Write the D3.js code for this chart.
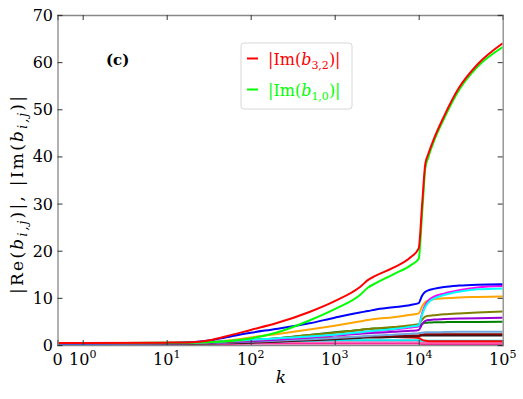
<!DOCTYPE html>
<html lang="en">
    <head>
        <meta charset="utf-8">
        <script src="https://d3js.org/d3.v7.min.js"></script>
        <style>
            body { margin: 0; background: #fff; }
        </style>
    </head>
    <body>
        <svg id="mysvg" width="523" height="399" font-family="'DejaVu Serif', serif"></svg>

        <script>

        // k values shared by all series
        var kValues = [0, 1, 10, 20, 30, 50, 100, 200, 500, 1000, 2000, 2500, 3000, 5000, 8000, 10000, 11000, 12000, 13000, 15000, 20000, 30000, 50000, 100000]

        var imB32 =    [0.4, 0.4, 0.5, 0.6, 0.9, 1.8, 3.2, 4.6, 7.0, 9.3, 12.3, 13.8, 14.6, 16.4, 18.6, 20.5, 30, 38.5, 40.5, 43.5, 48.5, 54.5, 59.5, 64]
        var imB10 =    [0.4, 0.4, 0.5, 0.5, 0.6, 0.8, 1.4, 2.6, 5.2, 7.6, 10.6, 12.2, 13.0, 15.0, 16.9, 18.3, 28, 37.5, 39.8, 43, 48, 54, 59, 63.2]
        var sBlue =    [0.3, 0.3, 0.4, 0.6, 0.9, 1.6, 2.6, 3.4, 4.6, 5.8, 6.9, 7.2, 7.5, 8.0, 8.5, 8.9, 10.5, 11.3, 11.6, 11.9, 12.3, 12.6, 12.8, 12.9]
        var sCyan =    [0.3, 0.3, 0.4, 0.5, 0.6, 0.8, 1.1, 1.4, 1.8, 2.2, 2.7, 2.9, 3.0, 3.4, 3.9, 4.2, 6.5, 8.1, 9.0, 9.8, 10.6, 11.3, 11.8, 12.0]
        var sMagenta = [0.3, 0.3, 0.4, 0.5, 0.6, 0.8, 1.0, 1.3, 1.7, 2.1, 2.6, 2.8, 2.9, 3.3, 3.7, 4.0, 6.8, 8.5, 9.4, 10.2, 10.9, 11.6, 12.2, 12.5]
        var sOrange =  [0.3, 0.3, 0.4, 0.5, 0.6, 0.9, 1.6, 2.3, 3.3, 4.1, 5.0, 5.3, 5.5, 5.9, 6.4, 6.7, 8.2, 9.1, 9.4, 9.7, 9.9, 10.1, 10.2, 10.3]
        var sOlive =   [0.4, 0.4, 0.5, 0.5, 0.6, 0.7, 1.0, 1.4, 2.1, 2.6, 3.2, 3.4, 3.5, 3.8, 4.2, 4.4, 5.4, 6.0, 6.2, 6.3, 6.5, 6.7, 6.9, 7.1]
        var sViolet =  [0.3, 0.3, 0.3, 0.4, 0.5, 0.6, 0.8, 1.1, 1.6, 2.0, 2.4, 2.5, 2.6, 2.8, 3.0, 3.2, 4.4, 5.1, 5.3, 5.4, 5.5, 5.6, 5.7, 5.8]
        var sDkGreen = [0.3, 0.3, 0.3, 0.4, 0.5, 0.7, 1.0, 1.4, 2.1, 2.7, 3.2, 3.4, 3.5, 3.7, 3.9, 4.0, 4.5, 4.7, 4.75, 4.8, 4.85, 4.9, 4.9, 4.95]
        var sSteel =   [0.3, 0.3, 0.3, 0.4, 0.4, 0.5, 0.7, 0.9, 1.2, 1.5, 1.8, 1.9, 2.0, 2.2, 2.4, 2.5, 2.6, 2.7, 2.7, 2.7, 2.75, 2.8, 2.8, 2.8]
        var sMaroon =  [0.3, 0.3, 0.3, 0.3, 0.4, 0.5, 0.6, 0.8, 1.1, 1.4, 1.7, 1.8, 1.8, 1.9, 2.0, 2.0, 2.2, 2.3, 2.3, 2.3, 2.3, 2.3, 2.3, 2.3]
        var sBlack =   [0.2, 0.2, 0.3, 0.3, 0.3, 0.4, 0.5, 0.7, 1.0, 1.2, 1.5, 1.6, 1.6, 1.7, 1.8, 1.9, 2.0, 2.0, 2.0, 2.0, 2.0, 2.0, 2.0, 2.0]
        var sRed2 =    [0.3, 0.3, 0.3, 0.4, 0.5, 0.6, 0.8, 1.0, 1.3, 1.5, 1.7, 1.7, 1.7, 1.7, 1.6, 1.5, 1.1, 0.9, 0.8, 0.8, 0.8, 0.8, 0.8, 0.8]
        var sCyan2 =   [0.2, 0.2, 0.3, 0.3, 0.4, 0.5, 0.6, 0.8, 0.9, 1.0, 1.0, 1.0, 1.0, 1.0, 1.0, 1.0, 0.9, 0.9, 0.9, 0.9, 0.9, 0.9, 0.9, 0.9]
        var sHotPink = [0.2, 0.2, 0.3, 0.3, 0.3, 0.4, 0.5, 0.6, 0.6, 0.6, 0.6, 0.6, 0.6, 0.6, 0.6, 0.6, 0.5, 0.5, 0.5, 0.5, 0.5, 0.5, 0.5, 0.5]
        var sPink =    [0.1, 0.1, 0.2, 0.2, 0.2, 0.2, 0.3, 0.3, 0.3, 0.3, 0.3, 0.3, 0.3, 0.3, 0.3, 0.3, 0.2, 0.2, 0.2, 0.2, 0.2, 0.2, 0.2, 0.2]

        var xTicks = [0, 1, 10, 100, 1000, 10000, 100000]
        var xTickLabels = [["0", ""], ["10", "0"], ["10", "1"], ["10", "2"], ["10", "3"], ["10", "4"], ["10", "5"]]
        var yTicks = [0, 10, 20, 30, 40, 50, 60, 70]

        // drawing order: bottom first, the two legend series last
        var series = [
            {v: sPink, c: "#ff1493"},
            {v: sHotPink, c: "#ff69b4"},
            {v: sCyan2, c: "#00e5ee"},
            {v: sRed2, c: "#ff0000"},
            {v: sBlack, c: "#202020"},
            {v: sMaroon, c: "#800000"},
            {v: sSteel, c: "#6fa8dc"},
            {v: sDkGreen, c: "#008000"},
            {v: sViolet, c: "#9400d3"},
            {v: sOlive, c: "#808000"},
            {v: sOrange, c: "#ffa500"},
            {v: sMagenta, c: "#ff00ff"},
            {v: sCyan, c: "#00ffff"},
            {v: sBlue, c: "#0000ff"},
            {v: imB10, c: "#00ff00"},
            {v: imB32, c: "#ff0000"}
        ]

        var svg = d3.select("#mysvg")

        var mLeft = 57.5, mRight = 502.7, mTop = 15, mBottom = 345

        // symlog-like: linear below 1, log above
        function tk(k) { return k <= 1 ? k * 0.3 : 0.3 + Math.log10(k) }

        var x = d3.scaleLinear().domain([0, tk(1e5)]).range([mLeft, mRight])
        var y = d3.scaleLinear().domain([0, 70]).range([mBottom, mTop])

        var line = d3.line()
            .x(function(d) { return x(tk(d[0])) })
            .y(function(d) { return y(d[1]) })
            .curve(d3.curveMonotoneX)

        svg.append("clipPath").attr("id", "clip")
            .append("rect").attr("x", mLeft).attr("y", mTop)
            .attr("width", mRight - mLeft).attr("height", mBottom - mTop)

        svg.append("g").attr("clip-path", "url(#clip)")
            .selectAll("path")
            .data(series)
            .enter().append("path")
            .attr("d", function(s) { return line(kValues.map(function(k, i) { return [k, s.v[i]] })) })
            .attr("fill", "none")
            .attr("stroke", function(s) { return s.c })
            .attr("stroke-width", 2)

        // axes, ticks inward
        var xt = xTicks.map(tk)
        var axColor = "#888"
        var gB = svg.append("g").attr("transform", "translate(0," + mBottom + ")")
            .call(d3.axisBottom(x).tickValues(xt).tickSize(-5).tickFormat(""))
        var gT = svg.append("g").attr("transform", "translate(0," + mTop + ")")
            .call(d3.axisTop(x).tickValues(xt).tickSize(-5).tickFormat(""))
        var gL = svg.append("g").attr("transform", "translate(" + mLeft + ",0)")
            .call(d3.axisLeft(y).tickValues(yTicks).tickSize(-5).tickFormat(""))
        var gR = svg.append("g").attr("transform", "translate(" + mRight + ",0)")
            .call(d3.axisRight(y).tickValues(yTicks).tickSize(-5).tickFormat(""))
        ;[gB, gT, gL, gR].forEach(function(g) {
            g.selectAll(".domain").attr("stroke", axColor).attr("stroke-width", 1.3)
            g.selectAll(".tick line").attr("stroke", "#333").attr("stroke-width", 1)
        })

        // x tick labels with superscripts
        var xl = svg.append("g")
        xTicks.forEach(function(k, i) {
            var t = xl.append("text")
                .attr("x", x(tk(k)))
                .attr("y", 365)
                .attr("text-anchor", "middle")
                .attr("font-size", 16)
            t.append("tspan").text(xTickLabels[i][0])
            if (xTickLabels[i][1]) {
                t.append("tspan").attr("font-size", 11).attr("dy", -7).text(xTickLabels[i][1])
            }
        })

        // y tick labels
        svg.append("g").selectAll("text")
            .data(yTicks)
            .enter().append("text")
            .attr("x", 53)
            .attr("y", function(d) { return y(d) + 6 })
            .attr("text-anchor", "end")
            .attr("font-size", 16)
            .text(function(d) { return d })

        // axis labels
        svg.append("text")
            .attr("x", 281).attr("y", 383)
            .attr("text-anchor", "middle")
            .attr("font-size", 17)
            .attr("font-style", "italic")
            .text("k")

        var yl = svg.append("text")
            .attr("transform", "translate(23,195) rotate(-90)")
            .attr("text-anchor", "middle")
            .attr("font-size", 17)
            .attr("textLength", 198)
            .attr("lengthAdjust", "spacing")
        function bij(t) {
            t.append("tspan").attr("font-style", "italic").text("b")
            t.append("tspan").attr("font-style", "italic").attr("font-size", 12).attr("dy", 4).text("i,j")
            t.append("tspan").attr("dy", -4).text(")|")
        }
        yl.append("tspan").text("|Re(")
        bij(yl)
        yl.append("tspan").text(", |Im(")
        bij(yl)

        // panel tag
        svg.append("text")
            .attr("x", 106).attr("y", 65)
            .attr("font-size", 15)
            .attr("font-weight", "bold")
            .text("(c)")

        // legend
        var legendItems = [
            {c: "#ff0000", sub: "3,2"},
            {c: "#00ff00", sub: "1,0"}
        ]
        var lg = svg.append("g")
        lg.append("rect")
            .attr("x", 241).attr("y", 43)
            .attr("width", 111).attr("height", 66)
            .attr("rx", 3)
            .attr("fill", "#fff")
            .attr("stroke", "#d8d8d8")
            .attr("stroke-width", 1)
        legendItems.forEach(function(it, i) {
            var cy = 58.5 + i * 31
            lg.append("line")
                .attr("x1", 247).attr("x2", 258)
                .attr("y1", cy).attr("y2", cy)
                .attr("stroke", it.c).attr("stroke-width", 2)
            var t = lg.append("text")
                .attr("x", 268).attr("y", cy + 6)
                .attr("font-size", 16)
                .attr("fill", it.c)
            t.append("tspan").text("|Im(")
            t.append("tspan").attr("font-style", "italic").text("b")
            t.append("tspan").attr("font-size", 11).attr("dy", 4).text(it.sub)
            t.append("tspan").attr("dy", -4).text(")|")
        })
        </script>
    </body>
</html>
